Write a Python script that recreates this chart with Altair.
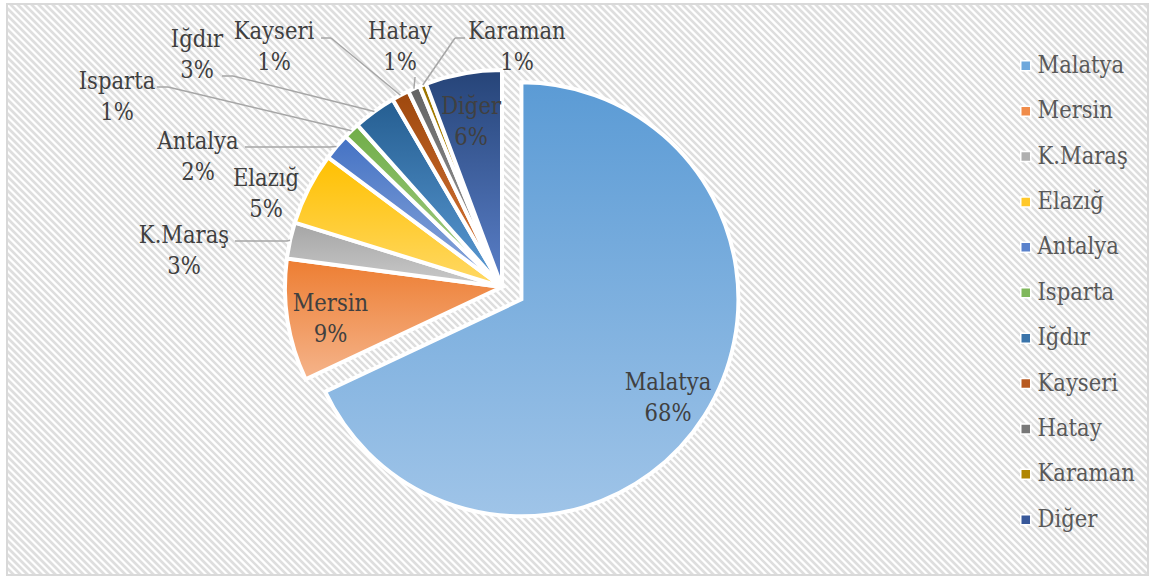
import math
import altair as alt
import pandas as pd

# ---------------- data ----------------
names = ["Malatya", "Mersin", "K.Maraş", "Elazığ", "Antalya", "Isparta",
         "Iğdır", "Kayseri", "Hatay", "Karaman", "Diğer"]
values = [68.0, 9.1, 2.7, 5.4, 2.0, 1.2, 3.2, 1.3, 0.9, 0.5, 5.7]
pct_labels = ["68%", "9%", "3%", "5%", "2%", "1%", "3%", "1%", "1%", "1%", "6%"]

# ---------------- styles ----------------
top_colors = ["#5b9bd5", "#ed7d31", "#a5a5a5", "#ffc000", "#4472c4", "#70ad47",
              "#255e91", "#9e480e", "#636363", "#997300", "#264478"]
bottom_colors = ["#9fc4e8", "#f5b48b", "#cacaca", "#ffd966", "#8eaadc", "#a9d18e",
                 "#5b9bd5", "#dd7a3a", "#a3a3a3", "#d9a400", "#5b80c9"]
legend_colors = ["#6fa8dc", "#f08c4a", "#b0b0b0", "#ffc82a", "#5a82cc", "#80b85c",
                 "#3a74aa", "#b85a20", "#777777", "#b08500", "#38589a"]

W, H = 1155, 577
CX, CY = 502, 287          # pie centre (px)
R = 217                    # outer radius (px)
EXPLODE = {"Malatya": 23}  # px
INSIDE = ["Malatya", "Mersin", "Diğer"]
INSIDE_FRAC = 0.8
INSIDE_DY = 6
LINE_H = 31
FS = 23.5
# outside label block centres (px)
LABEL_POS = {
    "K.Maraş": (184, 251), "Elazığ": (266, 194), "Antalya": (198, 157),
    "Isparta": (117, 97), "Iğdır": (197, 55), "Kayseri": (274, 47),
    "Hatay": (400, 47), "Karaman": (517, 47),
}
# leader lines: (start x, elbow x, y)
LEADERS = {
    "K.Maraş": (235, 287, 241), "Antalya": (245, 330, 147),
    "Isparta": (157, 168, 87), "Iğdır": (222, 233, 76),
    "Kayseri": (321, 331, 38), "Hatay": (415, 415, 77),
    "Karaman": (465, 455, 38),
}
FONT = "DejaVu Serif Condensed, DejaVu Serif"

df = pd.DataFrame({"name": names, "value": values, "pct": pct_labels,
                   "order": list(range(len(names)))})

# derived geometry for labels / leaders
total = sum(values)
lab_rows, lead_rows = [], []
cum = 0.0
for n, v, p in zip(names, values, pct_labels):
    mid = (cum + v / 2) / total * 2 * math.pi
    cum += v
    e = EXPLODE.get(n, 0)
    ox, oy = CX + e * math.sin(mid), CY - e * math.cos(mid)
    if n in INSIDE:
        lx = ox + INSIDE_FRAC * R * math.sin(mid)
        ly = oy - INSIDE_FRAC * R * math.cos(mid) + INSIDE_DY
    else:
        lx, ly = LABEL_POS[n]
    # first line is anchored at y, so shift up by half a line to centre the block
    lab_rows.append({"name": n, "label": n + "\n" + p, "lx": lx, "ly": ly - LINE_H / 2})
    if n in LEADERS:
        sx, ex_, y0 = LEADERS[n]
        lead_rows.append({"name": n, "x0": sx, "y0": y0, "x1": ex_, "y1": y0,
                          "x2": ox + R * math.sin(mid), "y2": oy - R * math.cos(mid)})
lab_df = pd.DataFrame(lab_rows)
lead_df = pd.DataFrame(lead_rows)

# ---------------- background ----------------
FL, FT, FR, FB = 7, 4, 1148, 575
span = FB - FT
stripes = (
    alt.Chart(alt.sequence(FL - span, FR, 7, as_="s"))
    .transform_calculate(
        xa=f"max(datum.s, {FL})",
        xb=f"min(datum.s + {span}, {FR})",
    )
    .transform_calculate(
        ya=f"{FT} + datum.xa - datum.s",
        yb=f"{FT} + datum.xb - datum.s",
    )
    .transform_filter("datum.xb > datum.xa")
    .mark_rule(stroke="#dedede", strokeWidth=2.6)
    .encode(
        x=alt.X("xa:Q", scale=None, axis=None),
        y=alt.Y("ya:Q", scale=None, axis=None),
        x2="xb:Q", y2="yb:Q",
    )
)
frame = alt.Chart(df).mark_rect(fill="transparent", stroke="#d9d9d9", strokeWidth=1.5).encode(
    x=alt.value(FL), x2=alt.value(FR), y=alt.value(FT), y2=alt.value(FB)
)

# ---------------- legend (dummy layer) ----------------
legend_layer = alt.Chart(df).mark_square(opacity=0, size=1).encode(
    x=alt.value(0), y=alt.value(0),
    color=alt.Color(
        "name:N",
        sort=names,
        scale=alt.Scale(domain=names, range=legend_colors),
        legend=alt.Legend(
            title=None, orient="none", legendX=1014, legendY=54,
            symbolType="square", symbolSize=100, symbolOpacity=1,
            symbolStrokeColor="white", symbolStrokeWidth=1.5,
            labelFont=FONT, labelFontSize=FS, labelColor="#595959",
            labelOffset=0, rowPadding=20.4, padding=0, labelLimit=300,
        ),
    ),
)

# ---------------- pie ----------------
theta_scale = alt.Scale(domain=[0, total], range=[0, 2 * math.pi])
explode_expr = " : ".join(
    [f"datum.name === '{k}' ? {v}" for k, v in EXPLODE.items()] + ["0"]
)
base = (
    alt.Chart(df)
    .transform_window(cum="sum(value)", sort=[alt.SortField("order")],
                      frame=[None, 0])
    .transform_calculate(start="datum.cum - datum.value")
    .transform_calculate(ang=f"(datum.start + datum.value / 2) / {total} * 2 * PI",
                         ex=explode_expr)
    .transform_calculate(px=f"{CX} + datum.ex * sin(datum.ang)",
                         py=f"{CY} - datum.ex * cos(datum.ang)")
)
arcs = []
for n, c0, c1 in zip(names, top_colors, bottom_colors):
    grad = alt.LinearGradient(
        gradient="linear",
        stops=[alt.GradientStop(color=c0, offset=0),
               alt.GradientStop(color=c1, offset=1)],
        x1=0, x2=0, y1=0, y2=1,
    )
    arcs.append(
        base.transform_filter(alt.datum.name == n)
        .mark_arc(outerRadius=R, stroke="white", strokeWidth=4, fill=grad)
        .encode(
            x=alt.X("px:Q", scale=None, axis=None),
            y=alt.Y("py:Q", scale=None, axis=None),
            theta=alt.Theta("start:Q", scale=theta_scale),
            theta2="cum:Q",
        )
    )

# ---------------- leaders & labels ----------------
lead1 = alt.Chart(lead_df).mark_rule(stroke="#a6a6a6", strokeWidth=1.5).encode(
    x=alt.X("x0:Q", scale=None, axis=None), y=alt.Y("y0:Q", scale=None, axis=None),
    x2="x1:Q", y2="y1:Q",
)
lead2 = alt.Chart(lead_df).mark_rule(stroke="#a6a6a6", strokeWidth=1.5).encode(
    x=alt.X("x1:Q", scale=None, axis=None), y=alt.Y("y1:Q", scale=None, axis=None),
    x2="x2:Q", y2="y2:Q",
)
labels = alt.Chart(lab_df).mark_text(
    font=FONT, fontSize=FS, color="#404040", lineBreak="\n", lineHeight=LINE_H,
    align="center", baseline="middle",
).encode(
    x=alt.X("lx:Q", scale=None, axis=None),
    y=alt.Y("ly:Q", scale=None, axis=None),
    text="label:N",
)

chart = (
    alt.layer(stripes, frame, legend_layer, *arcs, lead1, lead2, labels)
    .properties(width=W, height=H, padding=0, autosize=alt.AutoSizeParams(type="none"),
                background="white")
    .configure_view(stroke=None)
)

chart.save("out.html", embed_options={"renderer": "svg", "actions": False})
